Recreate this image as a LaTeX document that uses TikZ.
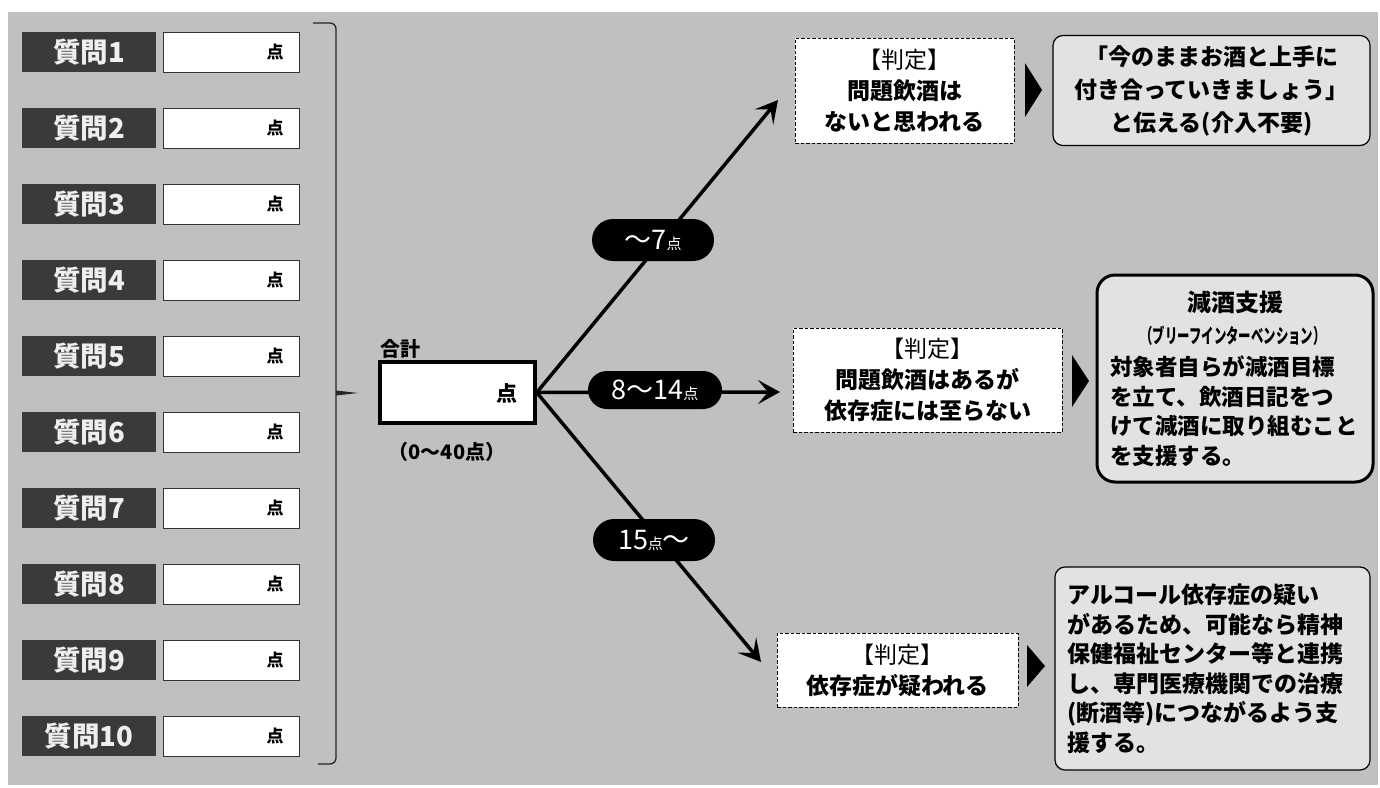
\documentclass[tikz,border=0pt]{standalone}
\usepackage{fontspec}
\setmainfont{Noto Sans CJK JP}
\newfontfamily\jpcond{Noto Sans CJK JP}[FakeStretch=0.62]
\usetikzlibrary{arrows.meta}
\definecolor{bggray}{HTML}{C0C0C0}
\definecolor{qdark}{HTML}{3A3A3A}
\definecolor{lightfill}{HTML}{E2E2E2}
\definecolor{qtext}{HTML}{EEEEEE}
\newcommand{\fs}[2]{\fontsize{#1}{#2}\selectfont}
\begin{document}
\begin{tikzpicture}[x=1pt,y=-1pt,
  qlabel/.style={fill=qdark, text=qtext, font=\fs{27.5}{27.5}\bfseries, minimum width=134pt, minimum height=40pt, inner sep=0pt},
  ansbox/.style={fill=white, draw=black!80, line width=0.8pt, minimum width=136pt, minimum height=40pt, inner sep=0pt},
  tenlbl/.style={font=\fs{17}{17}\bfseries, inner sep=0pt},
  brk/.style={draw=black!85, line width=1.3pt},
  totbox/.style={fill=white, draw=black, line width=3.5pt, minimum width=155pt, minimum height=61pt, inner sep=0pt},
  conn/.style={draw=black, line width=3.5pt, -{Stealth[length=22pt,width=24pt,inset=10pt]}},
  pill/.style={fill=black, text=white, rounded corners=21pt, minimum width=122pt, minimum height=42pt, inner sep=0pt, font=\fs{27}{27}},
  judge/.style={fill=white, draw=black, line width=1pt, dash pattern=on 3.5pt off 2pt, align=center, font=\fs{23}{31}\bfseries, inner sep=0pt},
  res/.style={fill=lightfill, draw=black, line width=1.2pt, rounded corners=10pt, inner sep=0pt},
  restext/.style={font=\fs{23}{29.5}\bfseries, inner sep=0pt, align=left}
]
\useasboundingbox (0,0) rectangle (1380,787);
\fill[white] (0,0) rectangle (1380,787);
\fill[bggray] (8,12) rectangle (1378,785);

% questions
\foreach \i in {1,...,10}{
  \pgfmathsetmacro\yy{52+76*(\i-1)}
  \node[qlabel] (q\i) at (89,\yy) {質問\i};
  \node[ansbox] (a\i) at (231,\yy) {};
  \node[tenlbl] (t\i) at (275,\yy) {点};
}

% bracket
\draw[brk, rounded corners=6pt] (313,23) -- (336,23) -- (336,764) -- (318,764);
\fill[black!85] (336,390.5) -- (358,393) -- (336,395.5) -- cycle;

% total
\node[anchor=west, font=\fs{20}{20}\bfseries, inner sep=0pt] (gokei) at (380,349) {合計};
\node[totbox] (tot) at (457.5,392.5) {};
\node[font=\fs{21}{21}\bfseries, inner sep=0pt] (totten) at (507,393) {点};
\node[font=\fs{20}{20}\bfseries, inner sep=0pt] (range) at (447,452) {（0〜40点）};

% connectors
\coordinate (e1) at (778,100);
\coordinate (e2) at (780,392);
\coordinate (e3) at (761,662);
\draw[conn] (tot.east) -- (e1);
\draw[conn] (tot.east) -- (e2);
\draw[conn] (tot.east) -- (e3);

% pills
\node[pill] (p1) at (653,240) {〜7{\fs{15}{15}点}};
\node[pill, minimum width=134pt, minimum height=38pt, rounded corners=19pt] (p2) at (655,390) {8〜14{\fs{15}{15}点}};
\node[pill] (p3) at (654,540) {15{\fs{15}{15}点}〜};

% judgement boxes
\node[judge, minimum width=219pt, minimum height=105pt] (j1) at (904.5,90.5) {{\mdseries【判定】}\\問題飲酒は\\ないと思われる};
\node[judge, minimum width=269pt, minimum height=104pt] (j2) at (927.5,380) {{\mdseries【判定】}\\問題飲酒はあるが\\依存症には至らない};
\node[judge, minimum width=241pt, minimum height=74pt] (j3) at (897.5,670) {{\mdseries【判定】}\\依存症が疑われる};

% triangles
\fill[black] (1025,63) -- (1042,90) -- (1025,117) -- cycle;
\fill[black] (1072,355) -- (1089,381) -- (1072,407) -- cycle;
\fill[black] (1027,645) -- (1045,666) -- (1027,687) -- cycle;

% result boxes
\node[res, minimum width=317pt, minimum height=110pt, align=center, font=\fs{23}{33}\bfseries] (r1) at (1211.5,90.5) {「今のままお酒と上手に\\付き合っていきましょう」\\と伝える(介入不要)};

\node[res, line width=3pt, rounded corners=18pt, minimum width=276pt, minimum height=207pt] (r2) at (1235,378.5) {};
\node[font=\fs{24}{24}\bfseries, inner sep=0pt] (r2t) at (1235,302) {減酒支援};
\node[font=\jpcond\fs{20}{20}\bfseries, inner sep=0pt] (r2s) at (1233,336) {（ブリーフインターベンション）};
\node[restext, font=\fs{22.5}{29.5}\bfseries, anchor=west] (r2b) at (1110,411) {対象者自らが減酒目標\\を立て、飲酒日記をつ\\けて減酒に取り組むこと\\を支援する。};

\node[res, minimum width=315pt, minimum height=203pt] (r3) at (1212.5,668.5) {};
\node[restext, anchor=west] (r3b) at (1067,669) {アルコール依存症の疑い\\があるため、可能なら精神\\保健福祉センター等と連携\\し、専門医療機関での治療\\(断酒等)につながるよう支\\援する。};
\end{tikzpicture}
\end{document}
